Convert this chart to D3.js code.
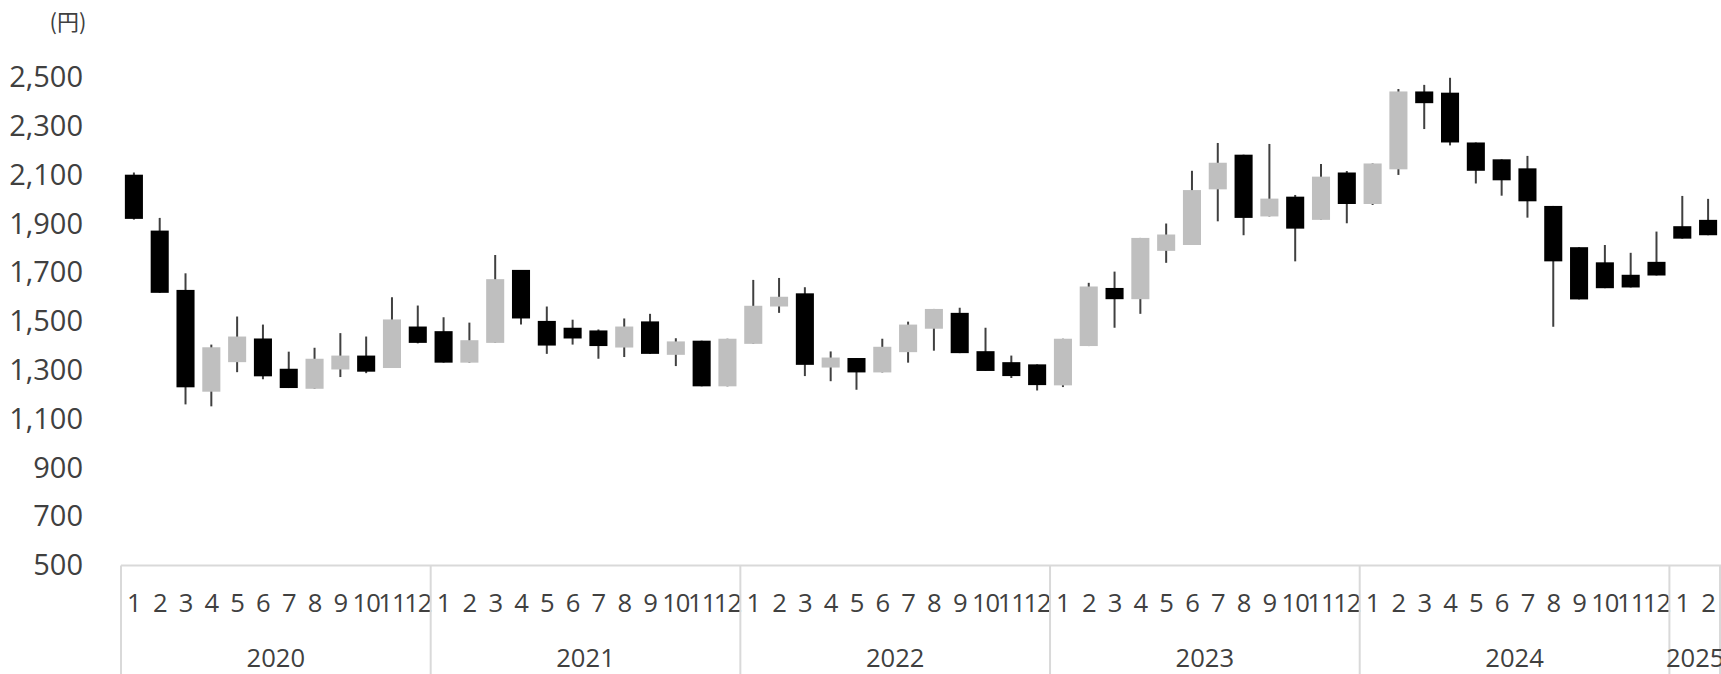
<!DOCTYPE html>
<html>
<head>
<meta charset="utf-8">
<script src="https://cdn.jsdelivr.net/npm/d3@7"></script>
<style>
  body { margin: 0; background: #fff; }
  svg { display: block; }
</style>
</head>
<body>
<div id="chart"></div>
<script>
// monthly candles, 2020-01 .. 2025-02
const years = [2020, 2021, 2022, 2023, 2024, 2025];
const monthsPerYear = [12, 12, 12, 12, 12, 2];

const open = [2101,1872,1629,1212,1333,1430,1306,1224,1303,1360,1309,1479,
              1460,1331,1412,1711,1502,1474,1463,1393,1500,1363,1421,1234,
              1408,1561,1615,1311,1350,1291,1374,1470,1535,1378,1333,1324,
              1238,1399,1637,1591,1789,1813,2041,2183,1930,2011,1916,2110,
              1981,2123,2442,2437,2233,2164,2127,1973,1804,1742,1691,1744,
              1890,1916];
const close = [1920,1617,1230,1394,1438,1275,1227,1347,1360,1294,1508,1412,
               1331,1423,1673,1512,1401,1430,1399,1479,1367,1418,1234,1429,
               1564,1601,1322,1352,1291,1396,1487,1551,1370,1297,1276,1239,
               1429,1643,1591,1842,1856,2038,2150,1924,2003,1880,2093,1981,
               2147,2442,2394,2233,2117,2078,1992,1746,1590,1636,1639,1688,
               1839,1853];
const high = [2110,1924,1697,1405,1520,1487,1376,1392,1452,1438,1599,1565,
              1517,1495,1772,1711,1561,1507,1467,1512,1531,1431,1421,1429,
              1670,1678,1640,1377,1350,1429,1499,1551,1556,1474,1360,1324,
              1429,1658,1704,1842,1901,2117,2231,2183,2227,2018,2145,2116,
              2147,2452,2469,2498,2233,2164,2178,1973,1804,1813,1781,1868,
              2014,2002];
const low = [1917,1617,1160,1152,1292,1263,1227,1224,1272,1288,1309,1410,
             1331,1331,1412,1487,1367,1405,1347,1354,1367,1317,1234,1234,
             1408,1535,1276,1255,1220,1291,1331,1380,1370,1297,1268,1217,
             1231,1399,1474,1531,1740,1813,1910,1853,1930,1746,1916,1902,
             1977,2100,2288,2221,2065,2015,1925,1478,1590,1636,1639,1688,
             1839,1853];
const yTicks = [500, 700, 900, 1100, 1300, 1500, 1700, 1900, 2100, 2300, 2500];

// build category list (year, month)
let cats = [];
years.forEach(function(yr, i) {
  for (let m = 1; m <= monthsPerYear[i]; m++) cats.push({ key: yr + "-" + m, year: yr, month: m });
});
let data = cats.map(function(c, i) {
  return { key: c.key, o: open[i], h: high[i], l: low[i], c: close[i] };
});

let w = 1721, h = 674;
let plotLeft = 121, plotRight = 1721, plotBottom = 565.5, plotTop = 77.3;
let font = "'Open Sans', 'Noto Sans', sans-serif";
let textColor = "#404040";
let lineColor = "#d9d9d9";

let svg = d3.select("#chart").append("svg")
  .attr("width", w)
  .attr("height", h);

let x = d3.scaleBand()
  .domain(cats.map(function(c) { return c.key; }))
  .range([plotLeft, plotRight])
  .paddingInner(0.3)
  .paddingOuter(0.15);

let y = d3.scaleLinear()
  .domain([500, 2500])
  .range([plotBottom, plotTop]);

// y axis (labels only)
let yAxis = d3.axisLeft(y)
  .tickValues(yTicks)
  .tickSize(0)
  .tickPadding(38)
  .tickFormat(d3.format(","));

let gy = svg.append("g")
  .attr("transform", "translate(" + plotLeft + ",0)")
  .call(yAxis);
gy.select(".domain").remove();
gy.selectAll("text")
  .attr("font-family", font)
  .attr("font-size", "29px")
  .attr("fill", textColor);

// unit label
svg.append("text")
  .attr("x", 68)
  .attr("y", 30)
  .attr("text-anchor", "middle")
  .attr("font-family", "'Noto Sans CJK JP', sans-serif")
  .attr("font-size", "22px")
  .attr("fill", textColor)
  .text("(円)");

// category axis: month labels
let xAxis = d3.axisBottom(x)
  .tickSize(0)
  .tickPadding(0)
  .tickFormat(function(k) { return k.split("-")[1]; });

let gx = svg.append("g")
  .attr("transform", "translate(0," + plotBottom + ")")
  .call(xAxis);
gx.select(".domain").remove();
gx.selectAll("text")
  .attr("font-family", font)
  .attr("font-size", "25.6px")
  .attr("letter-spacing", "-1px")
  .attr("fill", textColor)
  .attr("dy", null)
  .attr("y", 46);

svg.append("line")
  .attr("x1", plotLeft).attr("x2", plotRight)
  .attr("y1", plotBottom).attr("y2", plotBottom)
  .attr("stroke", lineColor)
  .attr("stroke-width", 2);

// year groups
let step = x.step();
let groups = [];
let idx = 0;
years.forEach(function(yr, i) {
  let x0 = plotLeft + idx * step;
  idx += monthsPerYear[i];
  groups.push({ year: yr, x0: x0, x1: plotLeft + idx * step });
});

let sepX = [plotLeft].concat(groups.map(function(g) { return g.x1; }));
svg.selectAll(".sep")
  .data(sepX)
  .enter()
  .append("line")
  .attr("class", "sep")
  .attr("x1", function(d) { return Math.min(d, w - 1); })
  .attr("x2", function(d) { return Math.min(d, w - 1); })
  .attr("y1", plotBottom)
  .attr("y2", h)
  .attr("stroke", lineColor)
  .attr("stroke-width", 2);

svg.selectAll(".year")
  .data(groups)
  .enter()
  .append("text")
  .attr("class", "year")
  .attr("x", function(d) { return (d.x0 + d.x1) / 2; })
  .attr("y", 667)
  .attr("text-anchor", "middle")
  .attr("font-family", font)
  .attr("font-size", "25.6px")
  .attr("fill", textColor)
  .text(function(d) { return d.year; });

// wicks
svg.selectAll(".wick")
  .data(data)
  .enter()
  .append("line")
  .attr("class", "wick")
  .attr("x1", function(d) { return x(d.key) + x.bandwidth() / 2; })
  .attr("x2", function(d) { return x(d.key) + x.bandwidth() / 2; })
  .attr("y1", function(d) { return y(d.h); })
  .attr("y2", function(d) { return y(d.l); })
  .attr("stroke", "#404040")
  .attr("stroke-width", 2);

// bodies
svg.selectAll(".body")
  .data(data)
  .enter()
  .append("rect")
  .attr("class", "body")
  .attr("x", function(d) { return x(d.key); })
  .attr("y", function(d) { return y(Math.max(d.o, d.c)); })
  .attr("width", x.bandwidth())
  .attr("height", function(d) { return Math.max(1, y(Math.min(d.o, d.c)) - y(Math.max(d.o, d.c))); })
  .attr("fill", function(d) { return d.c >= d.o ? "#bfbfbf" : "#000000"; });
</script>
</body>
</html>
